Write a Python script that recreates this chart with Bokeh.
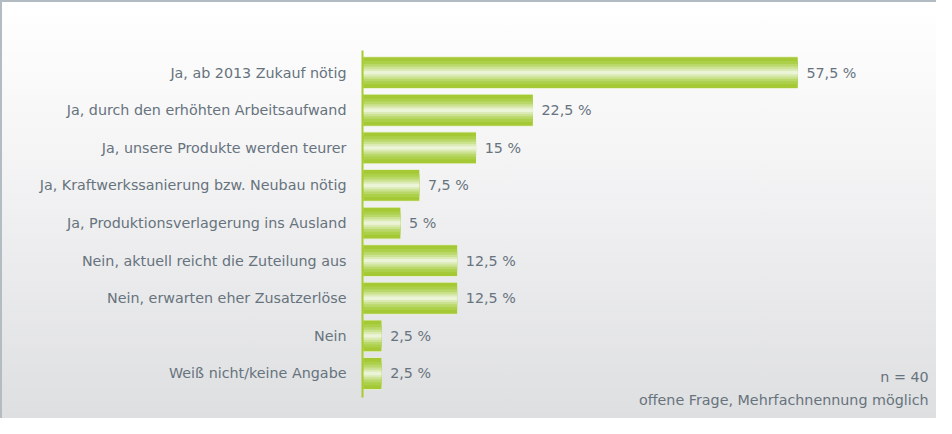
from bokeh.plotting import figure
from bokeh.models import Range1d, FixedTicker, Label, ColumnDataSource
from bokeh.core.properties import value
from bokeh.embed import file_html
from bokeh.resources import INLINE

categories = [
    "Ja, ab 2013 Zukauf nötig",
    "Ja, durch den erhöhten Arbeitsaufwand",
    "Ja, unsere Produkte werden teurer",
    "Ja, Kraftwerkssanierung bzw. Neubau nötig",
    "Ja, Produktionsverlagerung ins Ausland",
    "Nein, aktuell reicht die Zuteilung aus",
    "Nein, erwarten eher Zusatzerlöse",
    "Nein",
    "Weiß nicht/keine Angabe",
]
values = [57.5, 22.5, 15, 7.5, 5, 12.5, 12.5, 2.5, 2.5]
value_labels = ["57,5 %", "22,5 %", "15 %", "7,5 %", "5 %", "12,5 %", "12,5 %", "2,5 %", "2,5 %"]
note_n = "n = 40"
note_text = "offene Frage, Mehrfachnennung möglich"

W, H = 936, 418
FONT = "DejaVu Sans"
FS = "14.3px"
TXT = "#67737d"

pos = list(range(len(categories)))
src = ColumnDataSource(dict(y=pos, v=values, lab=value_labels,
                            lx=[v + 1.15 for v in values]))

Y_TOP = -0.588
Y_AXIS_END = 8.64

p = figure(width=W, height=H, output_backend="svg", toolbar_location=None,
           x_range=Range1d(0, 76.1), y_range=Range1d(9.25, Y_TOP),
           min_border_left=360, min_border_top=48, min_border_bottom=0,
           min_border_right=0)
p.styles = {"background": "linear-gradient(to bottom, #ffffff 0%, #f5f5f6 35%, #dedfe1 100%)",
            "border-top": "2px solid #b3bcc3", "border-left": "2px solid #b3bcc3",
            "box-sizing": "border-box"}
p.background_fill_alpha = 0
p.border_fill_alpha = 0
p.outline_line_color = None
p.xgrid.visible = False
p.ygrid.visible = False
p.xaxis.visible = False

ya = p.yaxis[0]
ya.bounds = (Y_TOP, Y_AXIS_END)
ya.ticker = FixedTicker(ticks=pos)
ya.major_label_overrides = {i: c for i, c in enumerate(categories)}
ya.major_tick_line_color = None
ya.minor_tick_line_color = None
ya.axis_line_color = "#a6cc2e"
ya.axis_line_width = 2
ya.major_label_standoff = 10
ya.major_label_text_font = FONT
ya.major_label_text_font_size = FS
ya.major_label_text_color = TXT

# bar with simulated glossy gradient
layers = [(0.86, "#e4efc4", 0.0), (0.82, "#a5c935", 0.1), (0.62, "#add04a", 0.1),
          (0.46, "#bad86a", 0.1), (0.32, "#cbe290", 0.1), (0.2, "#dcebb6", 0.1),
          (0.09, "#ecf4d8", 0.1)]
for h, c, l in layers:
    p.hbar(y="y", right="v", left=l, height=h, source=src,
           fill_color=c, line_color=None)

p.text(x="lx", y="y", text="lab", source=src, text_baseline="middle",
       text_font=value(FONT), text_font_size=FS, text_color=TXT)

p.add_layout(Label(x=74.8, y=8.1, text=note_n, text_align="right",
                   text_baseline="middle", text_font=FONT,
                   text_font_size=FS, text_color=TXT))
p.add_layout(Label(x=74.8, y=8.7, text=note_text, text_align="right",
                   text_baseline="middle", text_font=FONT,
                   text_font_size=FS, text_color=TXT))

open("out.html", "w").write(file_html(p, INLINE))
